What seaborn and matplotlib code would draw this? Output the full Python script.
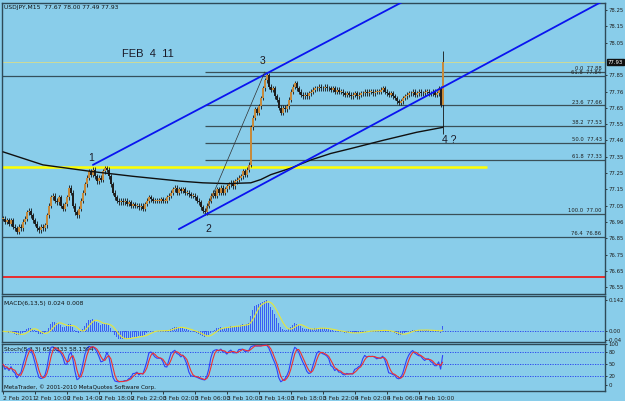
import numpy as np
import pandas as pd
import matplotlib
matplotlib.use("Agg")
import matplotlib.pyplot as plt
import matplotlib.transforms as mtransforms
import seaborn as sns

# ---------------- data ----------------
closes = (
    [76.97, 76.95, 76.96, 76.94, 76.96, 76.92, 76.91, 76.89, 76.92, 76.91]
    + [76.95, 76.97, 77.01, 77.02, 76.99, 76.96, 76.94, 76.91, 76.90, 76.92, 76.91, 76.93]
    + [76.99, 77.05, 77.10, 77.11, 77.08, 77.07, 77.10, 77.05, 77.03, 77.06, 77.10, 77.16]
    + [77.13, 77.05, 77.01, 76.99, 77.03, 77.08, 77.13, 77.18, 77.22, 77.26, 77.24, 77.27]
    + [77.23, 77.20, 77.22, 77.21, 77.26, 77.28, 77.27, 77.23, 77.18, 77.13, 77.10, 77.08]
    + [77.07, 77.08, 77.07, 77.08, 77.06, 77.07, 77.05, 77.06, 77.05, 77.05, 77.04, 77.05, 77.03]
    + [77.06, 77.08, 77.10, 77.09, 77.08, 77.08, 77.08, 77.08, 77.09, 77.08, 77.08, 77.10, 77.11, 77.13]
    + [77.15, 77.16, 77.13, 77.15, 77.14, 77.15, 77.13, 77.13, 77.12, 77.11, 77.11, 77.10, 77.08,
       77.07, 77.04, 77.02, 77.01]
    + [77.05, 77.08, 77.11, 77.13, 77.11, 77.15, 77.13, 77.16, 77.13, 77.15, 77.17, 77.18, 77.19,
       77.17, 77.20, 77.21, 77.22, 77.23, 77.26, 77.24, 77.27, 77.30]
    + [77.53, 77.59, 77.64, 77.62, 77.66, 77.71, 77.77, 77.82, 77.85, 77.78, 77.76, 77.77, 77.72,
       77.70, 77.65, 77.62, 77.65, 77.64, 77.66]
    + [77.70, 77.75, 77.78, 77.80, 77.77, 77.75, 77.73, 77.72, 77.73, 77.72, 77.74, 77.75, 77.76,
       77.77, 77.77, 77.78, 77.77, 77.77, 77.78, 77.77]
    + [77.77, 77.76, 77.77, 77.75, 77.76, 77.75, 77.75, 77.74, 77.73, 77.74, 77.73, 77.72, 77.73,
       77.74, 77.72, 77.73, 77.74, 77.74, 77.75, 77.74, 77.75, 77.75, 77.74, 77.75, 77.75, 77.75,
       77.76, 77.77, 77.75, 77.74]
    + [77.73, 77.74, 77.72, 77.71, 77.69, 77.68, 77.69, 77.71, 77.72, 77.73, 77.74, 77.74, 77.75,
       77.73, 77.74, 77.75, 77.74, 77.74, 77.75, 77.75, 77.74, 77.74, 77.75, 77.73, 77.74, 77.77,
       77.67, 77.93]
)
last_high = 78.00
last_low = 77.49

ma_index = [0, 20, 44, 65, 89, 100, 112, 124, 129, 134, 144, 154, 164, 174, 190, 207, 220]
ma_values = [77.38, 77.30, 77.26, 77.23, 77.20, 77.19, 77.185, 77.19, 77.21, 77.24, 77.28,
             77.33, 77.37, 77.40, 77.45, 77.50, 77.53]

fib_start = 101
fib_levels = [77.87, 77.665, 77.54, 77.435, 77.33, 77.00]
fib_labels = ["0.0  77.88", "23.6  77.66", "38.2  77.53", "50.0  77.43", "61.8  77.33", "100.0  77.00"]
full_levels = [77.845, 76.86]
full_labels = ["61.8  77.84", "76.4  76.86"]
yellow_level = 77.29
yellow_end = 242
bid_level = 77.93
red_level = 76.615

upper_line_x = [45, 200]
upper_line_y = [77.30, 78.30]
lower_line_x = [88, 301]
lower_line_y = [76.906, 78.31]
diag_x = [101, 131]
diag_y = [77.00, 77.87]

wave_labels = ["1", "2", "3", "4 ?"]
wave_x = [42.5, 101.5, 128.5, 219.5]
wave_y = [77.345, 76.905, 77.935, 77.45]

price_ticks = [78.25, 78.15, 78.05, 77.85, 77.75, 77.65, 77.55, 77.45, 77.35, 77.25,
               77.15, 77.05, 76.95, 76.85, 76.75, 76.65, 76.55]
price_tick_labels = ["78.25", "78.15", "78.05", "77.85", "77.76", "77.65", "77.55",
                     "77.46", "77.35", "77.25", "77.15", "77.05", "76.96", "76.85", "76.75",
                     "76.65", "76.55"]
time_ticks = [0, 16, 32, 48, 64, 80, 96, 112, 128, 144, 160, 176, 192, 208]
time_labels = ["2 Feb 2011", "2 Feb 10:00", "2 Feb 14:00", "2 Feb 18:00", "2 Feb 22:00",
               "3 Feb 02:00", "3 Feb 06:00", "3 Feb 10:00", "3 Feb 14:00", "3 Feb 18:00",
               "3 Feb 22:00", "4 Feb 02:00", "4 Feb 06:00", "4 Feb 10:00"]

# ---------------- derived OHLC and indicators ----------------
n = len(closes)
x = np.arange(n)
c = pd.Series(closes, dtype=float)
o = pd.Series([closes[0]] + closes[:-1], dtype=float)
wick = 0.015
h = np.maximum(o, c) + wick
l = np.minimum(o, c) - wick
h.iloc[-1] = last_high
l.iloc[-1] = last_low

ema_fast = c.ewm(span=6, adjust=False).mean()
ema_slow = c.ewm(span=13, adjust=False).mean()
macd = ema_fast - ema_slow
signal = macd.rolling(5, min_periods=1).mean()

ll = l.rolling(8, min_periods=1).min()
hh = h.rolling(8, min_periods=1).max()
num = (c - ll).rolling(3, min_periods=1).sum()
den = (hh - ll).rolling(3, min_periods=1).sum()
stoch_k = 100 * num / den
stoch_d = stoch_k.rolling(3, min_periods=1).mean()

# ---------------- figure ----------------
sns.set_theme(style="white")
plt.rcParams["font.family"] = ["DejaVu Sans"]
BG = "#89CDEA"
BORDER = "#2E4A58"
W, H = 625, 401
fig = plt.figure(figsize=(W / 100, H / 100), dpi=100, facecolor=BG)


def rect(x0, y0, x1, y1):
    return [x0 / W, 1 - y1 / H, (x1 - x0) / W, (y1 - y0) / H]


ax = fig.add_axes(rect(2, 3, 605, 294))
axm = fig.add_axes(rect(2, 296, 605, 342), sharex=ax)
axs = fig.add_axes(rect(2, 344, 605, 391), sharex=ax)

XL = (-0.5, 301.25)
for a in (ax, axm, axs):
    a.set_facecolor(BG)
    for s in a.spines.values():
        s.set_color(BORDER)
        s.set_linewidth(1.0)
    a.yaxis.tick_right()
    a.tick_params(axis="y", which="both", direction="out", length=1.5, width=0.6,
                  colors="#202020", labelsize=3.9, pad=0.8, right=True, left=False)
    a.tick_params(axis="x", which="both", bottom=False, labelbottom=False)
    a.set_xlim(*XL)

# --- main panel ---
ax.set_ylim(76.508, 78.293)
ax.set_yticks(price_ticks)
ax.set_yticklabels(price_tick_labels)

ax.axhline(bid_level, color="#D8DC8A", lw=0.6, zorder=1)
ax.axhline(red_level, color="#F02020", lw=1.3, zorder=1)
for lv in full_levels:
    ax.axhline(lv, color="#34505C", lw=0.9, zorder=1)
ax.hlines(fib_levels, fib_start, XL[1], color="#3A5058", lw=0.9, zorder=1)
ax.hlines([yellow_level], XL[0], yellow_end, color="#FFFF00", lw=1.8, zorder=2)

for lv, lb in zip(fib_levels + full_levels, fib_labels + full_labels):
    ax.text(299.5, lv + 0.004, lb, fontsize=3.8, ha="right", va="bottom", color="#202020")

# candles
bull = c >= o
body_bottom = np.minimum(o, c)
body_h = np.maximum(np.abs(c - o), 0.004)
ax.vlines(x, l, h, color="#141414", lw=0.6, zorder=3)
ax.bar(x, body_h, bottom=body_bottom, width=0.9,
       color=np.where(bull, "#C68A3C", "#1E1E1E"), linewidth=0, zorder=4)

# moving average and trend lines
sns.lineplot(x=ma_index, y=ma_values, ax=ax, color="#101010", lw=1.0, zorder=5)
sns.lineplot(x=upper_line_x, y=upper_line_y, ax=ax, color="#0A14F0", lw=1.3, zorder=6)
sns.lineplot(x=lower_line_x, y=lower_line_y, ax=ax, color="#0A14F0", lw=1.3, zorder=6)
sns.lineplot(x=diag_x, y=diag_y, ax=ax, color="#303030", lw=0.5, zorder=6)

for t, xx, yy in zip(wave_labels, wave_x, wave_y):
    ax.text(xx, yy, t, fontsize=7.5, color="#1A1A28", ha="left", va="center",
            family="Liberation Sans")
ax.text(59.5, 77.98, "FEB  4  11", fontsize=8, color="#1A1A28", ha="left", va="center",
        family="Liberation Sans")
ax.text(0.004, 0.992, "USDJPY,M15  77.67 78.00 77.49 77.93", transform=ax.transAxes,
        fontsize=4.3, ha="left", va="top", color="#101010")

# current price box
btr = mtransforms.blended_transform_factory(ax.transAxes, ax.transData)
ax.text(1.004, bid_level, "77.93", transform=btr, fontsize=3.9, color="white",
        ha="left", va="center",
        bbox=dict(boxstyle="square,pad=0.15", fc="#101010", ec="#101010"), zorder=10,
        clip_on=False)

# --- MACD panel ---
axm.set_ylim(-0.0488, 0.1597)
axm.set_yticks([0.142, 0.0, -0.04])
axm.set_yticklabels(["0.142", "0.00", "-0.04"])
axm.axhline(0, color="#2038F0", lw=0.6, ls=(0, (1.5, 1.5)), zorder=1)
axm.bar(x, macd, width=0.5, color="#3A5CF4", linewidth=0, zorder=2)
sns.lineplot(x=x, y=signal.values, ax=axm, color="#E6E63A", lw=0.8, zorder=3)
axm.text(0.004, 0.9, "MACD(6,13,5) 0.024 0.008", transform=axm.transAxes, fontsize=4.3,
         ha="left", va="top", color="#101010")
axm.set_ylabel("")

# --- Stochastic panel ---
axs.set_ylim(-16, 96.8)
axs.set_yticks([100, 80, 50, 20, 0])
axs.set_yticklabels(["100", "80", "50", "20", "0"])
for lv in (80, 50, 20):
    axs.axhline(lv, color="#2038F0", lw=0.6, ls=(0, (1.5, 1.5)), zorder=1)
sns.lineplot(x=x, y=stoch_k.values, ax=axs, color="#3040F8", lw=0.8, zorder=3)
sns.lineplot(x=x, y=stoch_d.values, ax=axs, color="#F03030", lw=0.8, zorder=4)
axs.text(0.004, 0.93, "Stoch(8,3,3) 65.3333 58.1394", transform=axs.transAxes, fontsize=4.3,
         ha="left", va="top", color="#101010")
axs.text(0.004, 0.02, "MetaTrader, © 2001-2010 MetaQuotes Software Corp.",
         transform=axs.transAxes, fontsize=4.1, ha="left", va="bottom", color="#101010")
axs.set_ylabel("")

axs.set_xticks(time_ticks)
axs.set_xticklabels(time_labels)
axs.tick_params(axis="x", bottom=True, labelbottom=True, length=2, width=0.6,
                colors="#202020", labelsize=4.3, pad=1.5, direction="out")
for tl in axs.get_xticklabels():
    tl.set_ha("left")

for a in (ax, axm, axs):
    a.set_xlim(*XL)
    a.set_xlabel("")

fig.savefig("out.png", dpi=100, facecolor=BG)
